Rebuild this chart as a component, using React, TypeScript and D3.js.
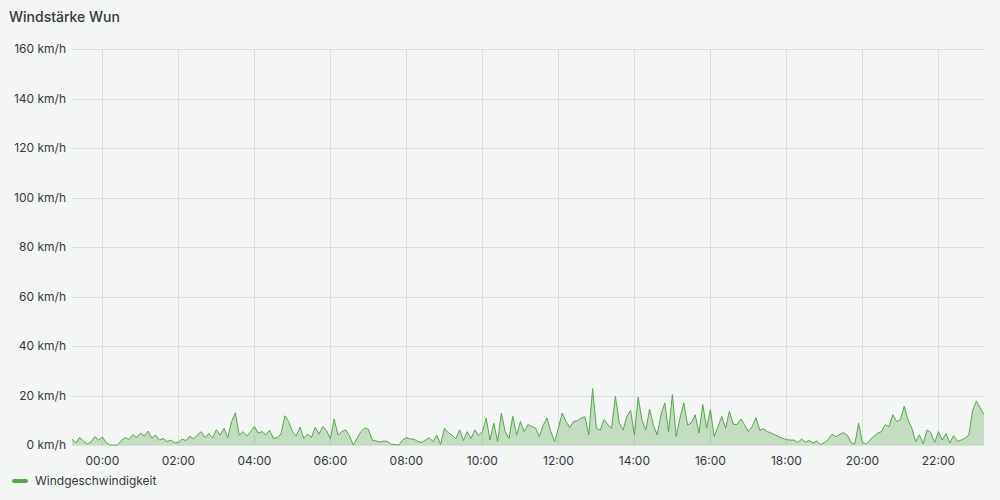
import { useEffect, useRef } from 'react'
import * as d3 from 'd3'

const TITLE = 'Windstärke Wun'
const SERIES_NAME = 'Windgeschwindigkeit'

// first sample 23:12 of the previous day, one sample every 6 minutes
const START = Date.UTC(2024, 0, 1, 23, 12)
const STEP_MIN = 6

// km/h, one row per hour (10 samples)
const windSpeed: number[] = [
  2.4, 0.8, 3.0, 1.6, 0.4, 1.2, 3.4, 2.0, 3.2, 1.0,
  0, 0, 0, 1.8, 3.0, 2.2, 4.2, 3.0, 4.8, 3.6,
  5.6, 2.8, 4.0, 2.0, 2.6, 1.4, 2.0, 0.8, 1.2, 2.4,
  1.8, 3.6, 2.4, 4.0, 5.4, 3.0, 4.6, 2.8, 6.2, 4.0,
  6.8, 3.0, 9.5, 13.0, 4.0, 5.4, 3.6, 5.4, 7.5, 4.8,
  5.4, 4.0, 6.0, 2.7, 3.0, 4.4, 11.8, 9.5, 5.4, 3.6,
  7.2, 2.6, 4.4, 3.0, 7.2, 4.4, 7.5, 5.8, 2.6, 10.5,
  4.0, 5.4, 6.1, 3.8, 0, 2.6, 5.4, 6.8, 6.4, 2.0,
  1.6, 1.2, 1.6, 1.4, 0.3, 0.2, 0, 2.0, 3.0, 2.4,
  2.4, 1.4, 1.0, 2.0, 3.0, 1.4, 4.0, 0.2, 6.8, 5.0,
  4.0, 2.5, 6.1, 1.8, 5.4, 2.6, 6.1, 3.8, 5.4, 10.9,
  2.0, 8.8, 1.4, 12.9, 5.4, 2.6, 11.6, 4.0, 9.5, 5.4,
  8.2, 7.5, 6.8, 3.4, 8.0, 10.9, 5.4, 1.4, 6.8, 12.9,
  9.5, 7.0, 9.5, 9.8, 10.9, 11.4, 4.1, 22.8, 6.8, 6.0,
  10.2, 8.2, 6.8, 19.7, 9.0, 6.0, 11.5, 14.0, 4.1, 19.3,
  10.0, 6.0, 14.5, 8.0, 4.1, 12.2, 17.0, 5.4, 20.4, 3.4,
  10.9, 17.0, 8.0, 9.0, 12.2, 4.8, 16.3, 6.8, 14.3, 3.4,
  7.5, 11.5, 6.8, 13.6, 8.4, 8.2, 10.5, 8.2, 5.4, 7.5,
  11.0, 6.0, 6.5, 5.4, 4.8, 4.1, 3.4, 2.7, 2.2, 2.0,
  2.0, 1.0, 2.4, 1.2, 1.8, 0.8, 1.6, 0.2, 1.0, 2.2,
  4.3, 3.4, 4.3, 5.0, 4.0, 1.0, 0.3, 8.8, 1.0, 0.4,
  2.0, 3.5, 4.8, 5.4, 8.2, 7.5, 12.2, 9.5, 10.2, 15.6,
  10.2, 6.8, 1.4, 4.1, 0.5, 6.1, 5.0, 1.0, 5.4, 2.0,
  4.6, 0.8, 3.8, 1.5, 2.0, 2.7, 4.0, 14.0, 17.7, 15.0,
  12.2,
]

const yTicks = [0, 20, 40, 60, 80, 100, 120, 140, 160]

const WIDTH = 1000
const HEIGHT = 500
const LINE_COLOR = '#56a64b'
const TEXT_COLOR = '#34383e'

export default function App() {
  const svgRef = useRef<SVGSVGElement>(null)

  useEffect(() => {
    if (!svgRef.current) return
    const svg = d3.select(svgRef.current)
    svg.selectAll('*').remove()

    const margin = { top: 49, right: 16, bottom: 55, left: 72 }
    const innerWidth = WIDTH - margin.left - margin.right
    const innerHeight = HEIGHT - margin.top - margin.bottom

    const data = windSpeed.map((v, i) => ({
      t: new Date(START + i * STEP_MIN * 60000),
      v,
    }))

    const x = d3.scaleUtc()
      .domain([data[0].t, data[data.length - 1].t])
      .range([0, innerWidth])
    const y = d3.scaleLinear().domain([0, 160]).range([innerHeight, 0])

    svg.append('rect')
      .attr('width', WIDTH)
      .attr('height', HEIGHT)
      .attr('fill', '#f4f5f5')

    svg.append('text')
      .attr('x', 9)
      .attr('y', 22)
      .attr('font-size', 14)
      .attr('font-weight', 500)
      .attr('fill', TEXT_COLOR)
      .text(TITLE)

    const g = svg.append('g')
      .attr('transform', `translate(${margin.left},${margin.top})`)

    const xTicks = x.ticks(d3.utcHour.every(2)!)

    // grid
    g.append('g')
      .selectAll('line')
      .data(yTicks)
      .join('line')
      .attr('x1', 0)
      .attr('x2', innerWidth)
      .attr('y1', d => Math.round(y(d)) + 0.5)
      .attr('y2', d => Math.round(y(d)) + 0.5)
      .attr('stroke', '#dcdddd')

    g.append('g')
      .selectAll('line')
      .data(xTicks)
      .join('line')
      .attr('x1', d => Math.round(x(d)) + 0.5)
      .attr('x2', d => Math.round(x(d)) + 0.5)
      .attr('y1', 0)
      .attr('y2', innerHeight)
      .attr('stroke', '#dcdddd')

    // axis labels
    g.append('g')
      .selectAll('text')
      .data(yTicks)
      .join('text')
      .attr('x', -6)
      .attr('y', d => y(d))
      .attr('dy', '0.35em')
      .attr('text-anchor', 'end')
      .attr('font-size', 12)
      .attr('fill', TEXT_COLOR)
      .text(d => `${d} km/h`)

    const fmt = d3.utcFormat('%H:%M')
    g.append('g')
      .selectAll('text')
      .data(xTicks)
      .join('text')
      .attr('x', d => x(d))
      .attr('y', innerHeight + 20)
      .attr('text-anchor', 'middle')
      .attr('font-size', 12)
      .attr('fill', TEXT_COLOR)
      .text(d => fmt(d))

    // series
    const area = d3.area<{ t: Date; v: number }>()
      .x(d => x(d.t))
      .y0(y(0))
      .y1(d => y(d.v))
    const line = d3.line<{ t: Date; v: number }>()
      .x(d => x(d.t))
      .y(d => y(d.v))

    g.append('path')
      .datum(data)
      .attr('d', area)
      .attr('fill', LINE_COLOR)
      .attr('fill-opacity', 0.3)

    g.append('path')
      .datum(data)
      .attr('d', line)
      .attr('fill', 'none')
      .attr('stroke', LINE_COLOR)
      .attr('stroke-width', 1)
      .attr('stroke-linejoin', 'round')

    // legend
    const legend = svg.append('g').attr('transform', 'translate(14,481)')
    legend.append('line')
      .attr('x1', 0)
      .attr('x2', 12)
      .attr('stroke', LINE_COLOR)
      .attr('stroke-width', 4)
      .attr('stroke-linecap', 'round')
    legend.append('text')
      .attr('x', 21)
      .attr('dy', '0.35em')
      .attr('font-size', 12)
      .attr('fill', TEXT_COLOR)
      .text(SERIES_NAME)
  }, [])

  return (
    <svg
      ref={svgRef}
      width={WIDTH}
      height={HEIGHT}
      style={{ position: 'absolute', left: 0, top: 0, fontFamily: 'Inter, sans-serif' }}
    />
  )
}
